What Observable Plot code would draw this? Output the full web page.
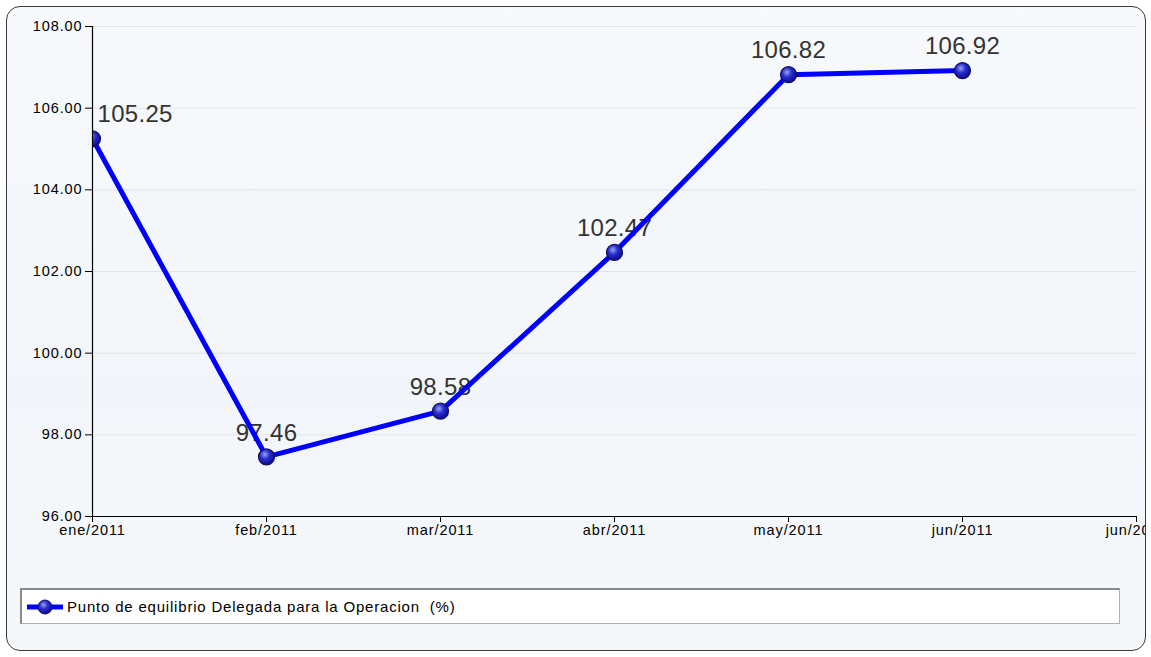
<!DOCTYPE html>
<html><head><meta charset="utf-8">
<script src="https://cdn.jsdelivr.net/npm/d3@7"></script>
<script src="https://cdn.jsdelivr.net/npm/@observablehq/plot@0.6"></script>
<style>
html,body{margin:0;padding:0;background:#fff;font-family:"Liberation Sans",Arial,sans-serif;}
#frame{position:absolute;left:6px;top:6px;width:1140px;height:645px;box-sizing:border-box;border:1.5px solid #3a3a3a;border-radius:14px;background:linear-gradient(180deg,#f7f9fc 0%,#f2f6fa 60%,#f5f8fb 100%);}
#chart{position:absolute;left:0;top:0;}
#chart svg text{letter-spacing:0.9px;}
#chart svg g[aria-label="text"] text{letter-spacing:0.3px;}
#legend{position:absolute;left:20px;top:588px;width:1100px;height:36px;box-sizing:border-box;background:#fff;border:1px solid #b0b0b0;border-top:2px solid #8a8a8a;border-left:2px solid #8a8a8a;display:flex;align-items:center;font-size:15px;letter-spacing:0.8px;color:#000;white-space:pre;}
#legend svg{margin-left:5px;margin-right:4px;}
</style></head>
<body>
<div id="frame"></div>
<div id="chart"></div>
<div id="legend"></div>
<script>
const months = ["ene/2011","feb/2011","mar/2011","abr/2011","may/2011","jun/2011"];
const tickLabels = ["ene/2011","feb/2011","mar/2011","abr/2011","may/2011","jun/2011","jun/2011"];
const values = [105.25, 97.46, 98.58, 102.47, 106.82, 106.92];
const seriesName = "Punto de equilibrio Delegada para la Operacion  (%)";
const yTicks = [96, 98, 100, 102, 104, 106, 108];

const data = values.map((v, i) => ({i, v, m: months[i]}));

const plot = Plot.plot({
  width: 1145,
  height: 545,
  marginLeft: 92,
  marginRight: 9,
  marginTop: 26,
  marginBottom: 29,
  style: {background: "transparent", fontSize: "14.5px", fontFamily: "'Liberation Sans', Arial, sans-serif", color: "#000"},
  x: {type: "linear", domain: [0, 6], ticks: d3.range(tickLabels.length), tickFormat: i => tickLabels[i], tickSize: 6, tickPadding: 2, label: null},
  y: {domain: [96, 108], ticks: yTicks, tickFormat: d => d.toFixed(2), tickSize: 7, tickPadding: 3, label: null},
  marks: [
    Plot.gridY(yTicks, {stroke: "#e2e4e8", strokeOpacity: 1}),
    Plot.text(data.filter(d => d.i === 0), {x: "i", y: "v", text: d => d.v.toFixed(2), textAnchor: "start", dx: 5, dy: -24, fontSize: 24, fill: "#333"}),
    Plot.text(data.filter(d => d.i > 0), {x: "i", y: "v", text: d => d.v.toFixed(2), dy: -24, fontSize: 24, fill: "#333"}),
    Plot.line(data, {x: "i", y: "v", stroke: "#0000ff", strokeWidth: 5, strokeLinejoin: "round", clip: true}),
    Plot.dot(data, {x: "i", y: "v", r: 8, fill: "#1a1ad8", stroke: "#10105a", strokeWidth: 1.2, clip: true}),
    Plot.ruleY([96], {stroke: "#000", strokeWidth: 1.2}),
    Plot.ruleX([0], {stroke: "#000", strokeWidth: 1.2})
  ]
});

// gradient fill for the point markers
const svgSel = d3.select(plot);
const defs = svgSel.insert("defs", ":first-child");
const g = defs.append("radialGradient").attr("id", "ballGrad").attr("cx", "40%").attr("cy", "35%").attr("r", "65%");
g.append("stop").attr("offset", "0%").attr("stop-color", "#9aa4ee");
g.append("stop").attr("offset", "45%").attr("stop-color", "#2a30d0");
g.append("stop").attr("offset", "100%").attr("stop-color", "#0a0a90");
svgSel.selectAll("circle").attr("fill", "url(#ballGrad)");

document.getElementById("chart").appendChild(plot);

// legend
const leg = document.getElementById("legend");
const ic = d3.create("svg").attr("width", 36).attr("height", 18);
ic.append("line").attr("x1", 0).attr("x2", 36).attr("y1", 9).attr("y2", 9).attr("stroke", "#0000ff").attr("stroke-width", 5);
const defs2 = ic.append("defs");
const g2 = defs2.append("radialGradient").attr("id", "ballGrad2").attr("cx", "40%").attr("cy", "35%").attr("r", "65%");
g2.append("stop").attr("offset", "0%").attr("stop-color", "#9aa4ee");
g2.append("stop").attr("offset", "45%").attr("stop-color", "#2a30d0");
g2.append("stop").attr("offset", "100%").attr("stop-color", "#0a0a90");
ic.append("circle").attr("cx", 18).attr("cy", 9).attr("r", 7).attr("fill", "url(#ballGrad2)").attr("stroke", "#10105a");
leg.appendChild(ic.node());
const sp = document.createElement("span");
sp.textContent = seriesName;
leg.appendChild(sp);
</script>
</body></html>
